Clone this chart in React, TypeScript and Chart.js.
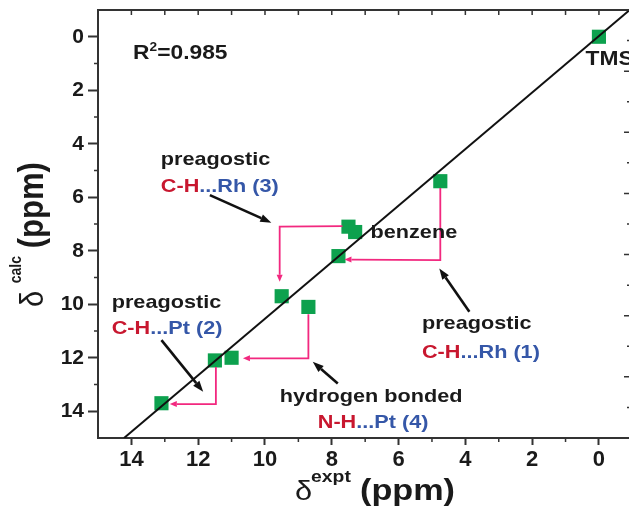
import React, { useEffect, useRef } from 'react';
import { Chart, registerables } from 'chart.js';

Chart.register(...registerables);

// ---- data (ppm) ----
const exptShift = [0, 4.75, 7.5, 7.3, 7.8, 9.5, 8.7, 11.0, 11.5, 13.1];
const calcShift = [0, 5.4, 7.1, 7.3, 8.2, 9.7, 10.1, 12.0, 12.1, 13.7];

// linear fit line end points
const fitX = [14.22, -0.93];
const fitY = [15.0, -1.01];

// axis ranges & ticks
const xMin = -0.93;
const xMax = 15;
const yMin = -1;
const yMax = 15;
const xTickValues = [0, 1, 2, 3, 4, 5, 6, 7, 8, 9, 10, 11, 12, 13, 14, 15];
const yTickValues = [0, 1, 2, 3, 4, 5, 6, 7, 8, 9, 10, 11, 12, 13, 14, 15];
const rightTickValues = [0.5, 1, 1.5, 2, 2.5, 3, 3.5, 4, 4.5, 5, 5.5, 6, 6.5];

// pink step connectors (x = expt, y = calc)
const stepRh1X = [4.75, 4.75, 7.62];
const stepRh1Y = [5.65, 8.35, 8.33];
const stepRh3X = [7.68, 9.56, 9.56];
const stepRh3Y = [7.08, 7.1, 9.16];
const stepPt4X = [8.7, 8.7, 10.66];
const stepPt4Y = [10.37, 12.02, 12.02];
const stepPt2X = [11.47, 11.47, 12.85];
const stepPt2Y = [12.35, 13.73, 13.73];

// black pointer arrows (from -> to)
const arrowRh3X = [11.65, 9.81];
const arrowRh3Y = [5.92, 6.95];
const arrowPt2X = [13.1, 11.85];
const arrowPt2Y = [11.34, 13.27];
const arrowRh1X = [3.88, 4.78];
const arrowRh1Y = [10.28, 8.66];
const arrowPt4X = [7.82, 8.57];
const arrowPt4Y = [12.96, 12.15];

const FONT = "'Liberation Sans', Arial, Helvetica, sans-serif";
const INK = '#1a1a1a';
const AXIS = '#333333';
const RED = '#c8172f';
const BLUE = '#3557a8';
const PINK = '#f2287f';
const GREEN = '#0da14e';
const SX = 1.14;

type Seg = { t: string; size?: number; weight?: string; color?: string; rise?: number; dx?: number };

const notes: { x: number; y: number; segs: Seg[] }[] = [
  { x: 13.95, y: 0.84, segs: [{ t: 'R', size: 20 }, { t: '2', size: 12, rise: 8 }, { t: '=0.985', size: 20 }] },
  { x: 0.4, y: 1.06, segs: [{ t: 'TMS', size: 20 }] },
  { x: 6.84, y: 7.52, segs: [{ t: 'benzene' }] },
  { x: 13.12, y: 4.78, segs: [{ t: 'preagostic' }] },
  { x: 13.12, y: 5.79, segs: [{ t: 'C-H', color: RED }, { t: '...Rh (3)', color: BLUE }] },
  { x: 14.59, y: 10.13, segs: [{ t: 'preagostic' }] },
  { x: 14.59, y: 11.13, segs: [{ t: 'C-H', color: RED }, { t: '...Pt (2)', color: BLUE }] },
  { x: 5.3, y: 10.94, segs: [{ t: 'preagostic' }] },
  { x: 5.3, y: 12.02, segs: [{ t: 'C-H', color: RED }, { t: '...Rh (1)', color: BLUE }] },
  { x: 9.56, y: 13.64, segs: [{ t: 'hydrogen bonded' }] },
  { x: 8.42, y: 14.64, segs: [{ t: 'N-H', color: RED }, { t: '...Pt (4)', color: BLUE }] },
];

function setFont(ctx: CanvasRenderingContext2D, s: Seg) {
  ctx.font = `${s.weight ?? 'bold'} ${s.size ?? 19}px ${FONT}`;
  ctx.fillStyle = s.color ?? INK;
}

function drawRun(ctx: CanvasRenderingContext2D, x: number, y: number, segs: Seg[]) {
  let cx = 0;
  for (const s of segs) {
    setFont(ctx, s);
    ctx.save();
    ctx.translate(x + cx, y - (s.rise ?? 0));
    ctx.scale(SX, 1);
    ctx.fillText(s.t, 0, 0);
    ctx.restore();
    cx += ctx.measureText(s.t).width * SX;
  }
}

function arrowPath(
  ctx: CanvasRenderingContext2D,
  pts: [number, number][],
  color: string,
  lw: number,
  headLen: number,
  headW: number
) {
  const n = pts.length;
  const [x2, y2] = pts[n - 1];
  const [x1, y1] = pts[n - 2];
  const ang = Math.atan2(y2 - y1, x2 - x1);
  const bx = x2 - headLen * Math.cos(ang);
  const by = y2 - headLen * Math.sin(ang);
  ctx.strokeStyle = color;
  ctx.lineWidth = lw;
  ctx.lineJoin = 'miter';
  ctx.beginPath();
  ctx.moveTo(pts[0][0], pts[0][1]);
  for (let i = 1; i < n - 1; i++) ctx.lineTo(pts[i][0], pts[i][1]);
  ctx.lineTo(bx, by);
  ctx.stroke();
  ctx.fillStyle = color;
  ctx.beginPath();
  ctx.moveTo(x2, y2);
  ctx.lineTo(bx + headW * Math.sin(ang), by - headW * Math.cos(ang));
  ctx.lineTo(bx - headW * Math.sin(ang), by + headW * Math.cos(ang));
  ctx.closePath();
  ctx.fill();
}

const overlay = {
  id: 'overlay',
  afterDatasetsDraw(chart: any) {
    const ctx: CanvasRenderingContext2D = chart.ctx;
    const xs = chart.scales.x;
    const ys = chart.scales.y;
    const yr = chart.scales.yR;
    const { left, right, top, bottom } = chart.chartArea;
    const px = (v: number) => xs.getPixelForValue(v);
    const py = (v: number) => ys.getPixelForValue(v);
    ctx.save();

    // top frame line
    ctx.strokeStyle = AXIS;
    ctx.lineWidth = 2;
    ctx.beginPath();
    ctx.moveTo(left - 1, top);
    ctx.lineTo(chart.width, top);
    ctx.stroke();

    // minor / inner ticks
    ctx.lineWidth = 1.5;
    ctx.beginPath();
    for (const v of xTickValues) {
      const x = px(v);
      ctx.moveTo(x, top);
      ctx.lineTo(x, top + 5);
      if (v % 2 !== 0 && v < xMax) {
        ctx.moveTo(x, bottom);
        ctx.lineTo(x, bottom + 4);
      }
    }
    for (const v of yTickValues) {
      if (v % 2 !== 0 && v < yMax) {
        const y = py(v);
        ctx.moveTo(left, y);
        ctx.lineTo(left - 4, y);
      }
    }
    for (const v of rightTickValues) {
      const y = yr.getPixelForValue(v);
      const len = Number.isInteger(v) ? 6 : 3;
      ctx.moveTo(right, y);
      ctx.lineTo(right - len, y);
    }
    ctx.stroke();

    // pink step connectors
    const steps: [number[], number[]][] = [
      [stepRh1X, stepRh1Y],
      [stepRh3X, stepRh3Y],
      [stepPt4X, stepPt4Y],
      [stepPt2X, stepPt2Y],
    ];
    for (const [sx, sy] of steps) {
      arrowPath(ctx, sx.map((v, i) => [px(v), py(sy[i])] as [number, number]), PINK, 1.8, 7, 3);
    }

    // black pointer arrows
    const arrows: [number[], number[]][] = [
      [arrowRh3X, arrowRh3Y],
      [arrowPt2X, arrowPt2Y],
      [arrowRh1X, arrowRh1Y],
      [arrowPt4X, arrowPt4Y],
    ];
    for (const [ax, ay] of arrows) {
      arrowPath(ctx, ax.map((v, i) => [px(v), py(ay[i])] as [number, number]), '#111111', 2.6, 11, 4);
    }

    // annotations
    ctx.textAlign = 'left';
    ctx.textBaseline = 'alphabetic';
    for (const n of notes) drawRun(ctx, px(n.x), py(n.y), n.segs);

    // x axis title
    const xt: Seg[] = [
      { t: 'δ', size: 27, weight: 'normal', dx: 0 },
      { t: 'expt', size: 17, rise: 17.3, dx: 16 },
      { t: '(ppm)', size: 30, dx: 65 },
    ];
    for (const s of xt) {
      setFont(ctx, s);
      ctx.save();
      ctx.translate(295 + (s.dx ?? 0), 499.5 - (s.rise ?? 0));
      ctx.scale(SX, 1);
      ctx.fillText(s.t, 0, 0);
      ctx.restore();
    }

    // y axis title (rotated)
    const yt: Seg[] = [
      { t: 'δ', size: 29, weight: 'normal', dx: 0 },
      { t: 'calc', size: 14, rise: 22, dx: 23.7 },
      { t: '(ppm)', size: 31, dx: 58.7 },
    ];
    ctx.save();
    ctx.translate(42.5, 307);
    ctx.rotate(-Math.PI / 2);
    for (const s of yt) {
      setFont(ctx, s);
      ctx.save();
      ctx.translate(s.dx ?? 0, -(s.rise ?? 0));
      ctx.scale(1, SX);
      ctx.fillText(s.t, 0, 0);
      ctx.restore();
    }
    ctx.restore();

    ctx.restore();
  },
};

export default function App() {
  const ref = useRef<HTMLCanvasElement>(null);
  useEffect(() => {
    const canvas = ref.current!;
    const chart = new Chart(canvas, {
      type: 'scatter',
      data: {
        datasets: [
          {
            type: 'line',
            data: fitX.map((x, i) => ({ x, y: fitY[i] })),
            borderColor: '#111111',
            borderWidth: 2,
            pointRadius: 0,
            fill: false,
          } as any,
          {
            type: 'scatter',
            data: exptShift.map((x, i) => ({ x, y: calcShift[i] })),
            pointStyle: 'rect',
            pointRadius: 10,
            pointHoverRadius: 10,
            backgroundColor: GREEN,
            borderWidth: 0,
          } as any,
        ],
      },
      options: {
        responsive: false,
        animation: false,
        devicePixelRatio: 1,
        layout: { padding: { top: 10, right: 0, left: 0, bottom: 0 } },
        plugins: { legend: { display: false }, tooltip: { enabled: false } },
        scales: {
          x: {
            type: 'linear',
            position: 'bottom',
            min: xMin,
            max: xMax,
            reverse: true,
            afterBuildTicks: (s: any) => {
              s.ticks = xTickValues.map((v) => ({ value: v }));
            },
            afterFit: (s: any) => {
              s.height = 70;
              s.paddingLeft = 0;
              s.paddingRight = 0;
              s.paddingTop = 0;
              s.paddingBottom = 0;
            },
            grid: {
              display: true,
              drawOnChartArea: false,
              drawTicks: true,
              tickLength: 7,
              tickWidth: 2,
              tickColor: (c: any) => (c.tick && c.tick.value % 2 === 0 ? AXIS : 'rgba(0,0,0,0)'),
            },
            border: { display: true, color: AXIS, width: 2 },
            ticks: {
              autoSkip: false,
              maxRotation: 0,
              padding: 2,
              color: INK,
              font: { family: FONT, size: 22, weight: 'bold' },
              callback: (v: any) => (Number(v) % 2 === 0 ? String(v) : ''),
            },
          },
          y: {
            type: 'linear',
            position: 'left',
            min: yMin,
            max: yMax,
            reverse: true,
            afterBuildTicks: (s: any) => {
              s.ticks = yTickValues.map((v) => ({ value: v }));
            },
            afterFit: (s: any) => {
              s.width = 98;
              s.paddingLeft = 0;
              s.paddingRight = 0;
              s.paddingTop = 0;
              s.paddingBottom = 0;
            },
            grid: {
              display: true,
              drawOnChartArea: false,
              drawTicks: true,
              tickLength: 10,
              tickWidth: 2,
              tickColor: (c: any) => (c.tick && c.tick.value % 2 === 0 ? AXIS : 'rgba(0,0,0,0)'),
            },
            border: { display: true, color: AXIS, width: 2 },
            ticks: {
              autoSkip: false,
              padding: 4,
              color: INK,
              font: { family: FONT, size: 21, weight: 'bold' },
              callback: (v: any) => (Number(v) % 2 === 0 ? String(v) : ''),
            },
          },
          yR: {
            type: 'linear',
            position: 'right',
            min: 0,
            max: 7,
            display: true,
            afterFit: (s: any) => {
              s.width = 9;
              s.paddingLeft = 0;
              s.paddingRight = 0;
              s.paddingTop = 0;
              s.paddingBottom = 0;
            },
            grid: { display: false, drawTicks: false },
            border: { display: false },
            ticks: { display: false },
          },
        },
      } as any,
      plugins: [overlay],
    });
    return () => chart.destroy();
  }, []);

  return (
    <div
      style={{
        position: 'fixed',
        left: 0,
        top: 0,
        width: 629,
        height: 508,
        overflow: 'hidden',
        background: '#ffffff',
      }}
    >
      <canvas ref={ref} width={640} height={508} style={{ display: 'block', width: 640, height: 508 }} />
    </div>
  );
}
